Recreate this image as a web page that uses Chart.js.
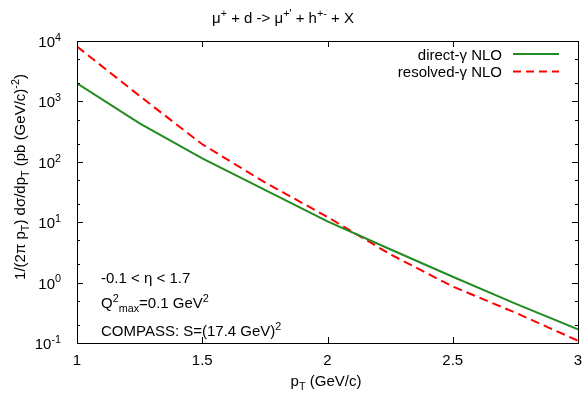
<!DOCTYPE html>
<html>
<head>
<meta charset="utf-8">
<script src="https://cdn.jsdelivr.net/npm/chart.js@4"></script>
<style>
  html, body { margin: 0; padding: 0; background: #fff; }
</style>
</head>
<body>
<canvas id="myChart" width="585" height="394"></canvas>
<script>
// values
const pT = [1, 1.25, 1.5, 1.75, 2, 2.25, 2.5, 2.75, 3];
const directNLO = [1995, 434, 113.5, 34.3, 10.3, 3.57, 1.25, 0.449, 0.169];
const resolvedNLO = [8100, 1230, 195, 45.7, 12.2, 2.95, 0.86, 0.318, 0.109];
const xTicks = [1, 1.5, 2, 2.5, 3];
const yDecades = [-1, 0, 1, 2, 3, 4];

const FONT = '"Liberation Sans", Arial, sans-serif';
const FS = 15;

// text with super/subscripts: parts = [[text, 0|1|-1], ...]
function richWidth(ctx, parts, size) {
  let w = 0;
  parts.forEach(([t, k]) => {
    ctx.font = (k ? size * 0.72 : size) + 'px ' + FONT;
    w += ctx.measureText(t).width;
  });
  return w;
}
function drawRich(ctx, parts, x, y, align, size) {
  const w = richWidth(ctx, parts, size);
  let cx = align === 'center' ? x - w / 2 : align === 'right' ? x - w : x;
  ctx.textAlign = 'left';
  ctx.textBaseline = 'alphabetic';
  parts.forEach(([t, k]) => {
    ctx.font = (k ? size * 0.72 : size) + 'px ' + FONT;
    const dy = k === 1 ? -size * 0.42 : k === -1 ? size * 0.28 : 0;
    ctx.fillText(t, cx, y + dy);
    cx += ctx.measureText(t).width;
  });
}

const decor = {
  id: 'decor',
  afterDraw(chart) {
    const ctx = chart.ctx;
    const a = chart.chartArea;
    const xs = chart.scales.x, ys = chart.scales.y;
    ctx.save();
    ctx.strokeStyle = '#000';
    ctx.fillStyle = '#000';
    ctx.lineWidth = 1;
    ctx.strokeRect(a.left + 0.5, a.top + 0.5, a.right - a.left, a.bottom - a.top);

    ctx.beginPath();
    xTicks.forEach(v => {
      const px = Math.round(xs.getPixelForValue(v)) + 0.5;
      ctx.moveTo(px, a.bottom); ctx.lineTo(px, a.bottom - 6);
      ctx.moveTo(px, a.top); ctx.lineTo(px, a.top + 6);
    });
    yDecades.forEach(d => {
      const py = Math.round(ys.getPixelForValue(Math.pow(10, d))) + 0.5;
      ctx.moveTo(a.left, py); ctx.lineTo(a.left + 6, py);
      ctx.moveTo(a.right, py); ctx.lineTo(a.right - 6, py);
      if (d < 4) {
        [2, 5].forEach(m => {
          const pm = Math.round(ys.getPixelForValue(m * Math.pow(10, d))) + 0.5;
          ctx.moveTo(a.left, pm); ctx.lineTo(a.left + 3, pm);
          ctx.moveTo(a.right, pm); ctx.lineTo(a.right - 3, pm);
        });
      }
    });
    ctx.stroke();

    // tick labels
    xTicks.forEach(v => {
      drawRich(ctx, [[String(v), 0]], xs.getPixelForValue(v), 365, 'center', FS);
    });
    yDecades.forEach(d => {
      const py = ys.getPixelForValue(Math.pow(10, d));
      drawRich(ctx, [['10', 0], [String(d), 1]], 61, py + 6, 'right', FS);
    });

    // title
    drawRich(ctx, [['\u03bc', 0], ['+', 1], [' + d -> \u03bc', 0], ["+'", 1],
      [' + h', 0], ['+-', 1], [' + X', 0]], 283, 23, 'center', FS);

    // axis labels
    drawRich(ctx, [['p', 0], ['T', -1], [' (GeV/c)', 0]], 326, 386, 'center', FS);
    ctx.save();
    ctx.translate(25, 177);
    ctx.rotate(-Math.PI / 2);
    drawRich(ctx, [['1/(2\u03c0 p', 0], ['T', -1], [') d\u03c3/dp', 0], ['T', -1],
      [' (pb (GeV/c)', 0], ['-2', 1], [')', 0]], 0, 0, 'center', FS);
    ctx.restore();

    // legend
    drawRich(ctx, [['direct-\u03b3 NLO', 0]], 502, 60, 'right', FS);
    drawRich(ctx, [['resolved-\u03b3 NLO', 0]], 502, 77, 'right', FS);
    ctx.lineWidth = 2;
    ctx.strokeStyle = '#228b22';
    ctx.beginPath(); ctx.moveTo(513, 54); ctx.lineTo(559, 54); ctx.stroke();
    ctx.strokeStyle = '#ff0000';
    ctx.setLineDash([8, 5]);
    ctx.beginPath(); ctx.moveTo(513, 71.5); ctx.lineTo(559, 71.5); ctx.stroke();
    ctx.setLineDash([]);

    // annotations
    drawRich(ctx, [['-0.1 < \u03b7 < 1.7', 0]], 101, 283, 'left', FS);
    drawRich(ctx, [['Q', 0], ['2', 1], ['max', -1], ['=0.1 GeV', 0], ['2', 1]], 101, 308, 'left', FS);
    drawRich(ctx, [['COMPASS: S=(17.4 GeV)', 0], ['2', 1]], 101, 336, 'left', FS);
    ctx.restore();
  }
};

const ctx = document.getElementById('myChart').getContext('2d');
const myChart = new Chart(ctx, {
  type: 'line',
  data: {
    datasets: [
      {
        label: 'direct-\u03b3 NLO',
        data: pT.map((x, i) => ({ x: x, y: directNLO[i] })),
        borderColor: '#228b22',
        borderWidth: 2,
        pointRadius: 0,
        tension: 0
      },
      {
        label: 'resolved-\u03b3 NLO',
        data: pT.map((x, i) => ({ x: x, y: resolvedNLO[i] })),
        borderColor: '#ff0000',
        borderWidth: 2,
        borderDash: [9, 5],
        pointRadius: 0,
        tension: 0
      }
    ]
  },
  options: {
    responsive: false,
    animation: false,
    layout: { padding: { left: 77, right: 7, top: 41, bottom: 51 } },
    plugins: {
      legend: { display: false },
      tooltip: { enabled: false }
    },
    scales: {
      x: { type: 'linear', min: 1, max: 3, display: false },
      y: { type: 'logarithmic', min: 0.1, max: 10000, display: false }
    }
  },
  plugins: [decor]
});
</script>
</body>
</html>
